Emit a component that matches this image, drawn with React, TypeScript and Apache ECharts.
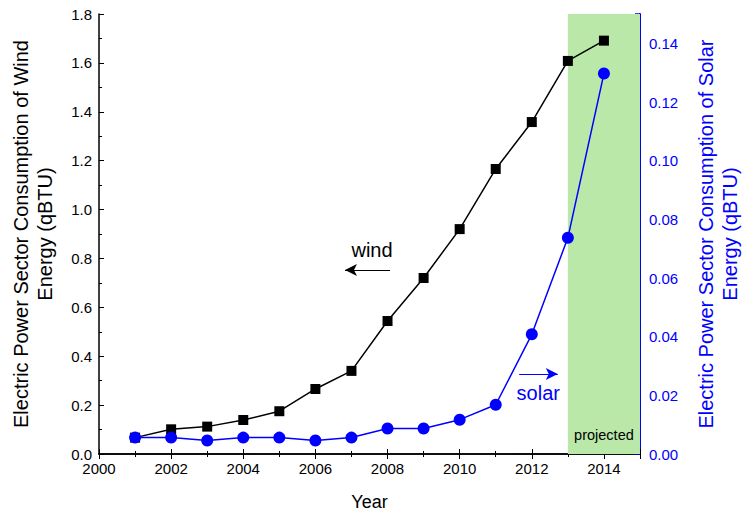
import React, { useEffect, useRef } from "react";
import * as echarts from "echarts";

const years = [2001, 2002, 2003, 2004, 2005, 2006, 2007, 2008, 2009, 2010, 2011, 2012, 2013, 2014];
const windValues = [0.067, 0.101, 0.112, 0.139, 0.175, 0.266, 0.34, 0.544, 0.72, 0.92, 1.166, 1.358, 1.608, 1.691];
const solarValues = [0.0056, 0.0056, 0.0046, 0.0056, 0.0056, 0.0046, 0.0056, 0.0087, 0.0087, 0.0117, 0.0168, 0.0408, 0.0737, 0.1297];
const projectedRange = [2013, 2015];
const windArrow = { from: [2008.07, 0.753], to: [2006.82, 0.753], label: [2007.57, 0.835] };
const solarArrow = { from: [2011.65, 0.327], to: [2012.72, 0.327], label: [2012.18, 0.25] };

const FONT = "Liberation Sans, Arial, sans-serif";

export default function App() {
  const ref = useRef<HTMLDivElement>(null);
  useEffect(() => {
    if (!ref.current) return;
    const chart = echarts.init(ref.current, null, { renderer: "svg" });
    chart.setOption({
      animation: false,
      textStyle: { fontFamily: FONT },
      grid: { left: 99, right: 103, top: 14, bottom: 60, containLabel: false, outerBoundsMode: "none" },
      xAxis: [
        {
          type: "value",
          min: 2000,
          max: 2015,
          interval: 2,
          name: "Year",
          nameLocation: "middle",
          nameGap: 39,
          nameTextStyle: { fontSize: 18, color: "#000", fontFamily: FONT },
          axisLine: { lineStyle: { color: "#000", width: 1.5 } },
          axisTick: { inside: true, length: 5, lineStyle: { color: "#000" } },
          minorTick: { show: true, splitNumber: 2, length: 3, lineStyle: { color: "#000" } },
          axisLabel: { fontSize: 15, color: "#000", margin: 7, showMaxLabel: false, formatter: (v: number) => String(v), fontFamily: FONT },
          splitLine: { show: false },
        },
        {
          type: "value",
          position: "top",
          min: 2000,
          max: 2015,
          interval: 2,
          axisLine: { lineStyle: { color: "#000", width: 1.5 } },
          axisTick: { inside: true, length: 5, lineStyle: { color: "#000" } },
          minorTick: { show: true, splitNumber: 2, length: 3, lineStyle: { color: "#000" } },
          axisLabel: { show: false },
          splitLine: { show: false },
        },
      ],
      yAxis: [
        {
          type: "value",
          min: 0,
          max: 1.8,
          interval: 0.2,
          name: "Electric Power Sector Consumption of Wind\nEnergy (qBTU)",
          nameLocation: "middle",
          nameRotate: 90,
          nameGap: 42,
          nameTextStyle: { fontSize: 20, color: "#000", lineHeight: 24, fontFamily: FONT },
          axisLine: { show: true, lineStyle: { color: "#000", width: 1.5 } },
          axisTick: { inside: true, length: 5, lineStyle: { color: "#000" } },
          minorTick: { show: true, splitNumber: 2, length: 3, lineStyle: { color: "#000" } },
          axisLabel: { fontSize: 15, color: "#000", margin: 7, formatter: (v: number) => v.toFixed(1), fontFamily: FONT },
          splitLine: { show: false },
        },
        {
          type: "value",
          position: "right",
          min: 0,
          max: 0.15,
          interval: 0.02,
          name: "Electric Power Sector Consumption of Solar\nEnergy (qBTU)",
          nameLocation: "middle",
          nameRotate: 90,
          nameGap: 54,
          nameTextStyle: { fontSize: 20, color: "#0000ff", lineHeight: 24, fontFamily: FONT },
          axisLine: { show: true, lineStyle: { color: "#0000ff", width: 2 } },
          axisTick: { inside: true, length: 5, lineStyle: { color: "#0000ff", width: 1.5 } },
          minorTick: { show: true, splitNumber: 2, length: 3, lineStyle: { color: "#0000ff", width: 1.5 } },
          axisLabel: { fontSize: 15, color: "#0000ff", margin: 9, showMaxLabel: false, formatter: (v: number) => v.toFixed(2), fontFamily: FONT },
          splitLine: { show: false },
        },
      ],
      series: [
        {
          name: "wind",
          type: "line",
          xAxisIndex: 0,
          yAxisIndex: 0,
          data: years.map((y, i) => [y, windValues[i]]),
          symbol: "rect",
          symbolSize: 10,
          itemStyle: { color: "#000" },
          lineStyle: { color: "#000", width: 1.5 },
          z: 3,
          markArea: {
            silent: true,
            itemStyle: { color: "#b9e8a9" },
            label: {
              show: true,
              position: "insideBottom",
              distance: 12,
              color: "#000",
              fontSize: 14.5,
              fontFamily: FONT,
            },
            data: [[{ xAxis: projectedRange[0], name: "projected" }, { xAxis: projectedRange[1] }]],
          },
          markLine: {
            silent: true,
            symbol: ["none", "arrow"],
            symbolSize: [9, 12],
            label: { show: false },
            lineStyle: { color: "#000", width: 1, type: "solid" },
            data: [[{ coord: windArrow.from }, { coord: windArrow.to }]],
          },
          markPoint: {
            silent: true,
            symbol: "circle",
            symbolSize: 0,
            label: { show: true, position: "inside", color: "#000", fontSize: 20, fontFamily: FONT, formatter: "wind" },
            data: [{ coord: windArrow.label }],
          },
        },
        {
          name: "solar",
          type: "line",
          xAxisIndex: 0,
          yAxisIndex: 1,
          data: years.map((y, i) => [y, solarValues[i]]),
          symbol: "circle",
          symbolSize: 12,
          itemStyle: { color: "#0000ff" },
          lineStyle: { color: "#0000ff", width: 1.5 },
          z: 4,
        },
        {
          name: "solarNote",
          type: "line",
          xAxisIndex: 0,
          yAxisIndex: 0,
          data: [],
          markLine: {
            silent: true,
            symbol: ["none", "arrow"],
            symbolSize: [9, 12],
            label: { show: false },
            lineStyle: { color: "#0000ff", width: 1, type: "solid" },
            data: [[{ coord: solarArrow.from }, { coord: solarArrow.to }]],
          },
          markPoint: {
            silent: true,
            symbol: "circle",
            symbolSize: 0,
            label: { show: true, position: "inside", color: "#0000ff", fontSize: 20, fontFamily: FONT, formatter: "solar" },
            data: [{ coord: solarArrow.label }],
          },
        },
      ],
    });
    return () => chart.dispose();
  }, []);
  return <div ref={ref} style={{ width: 743, height: 514, position: "absolute", left: 0, top: 0 }} />;
}
